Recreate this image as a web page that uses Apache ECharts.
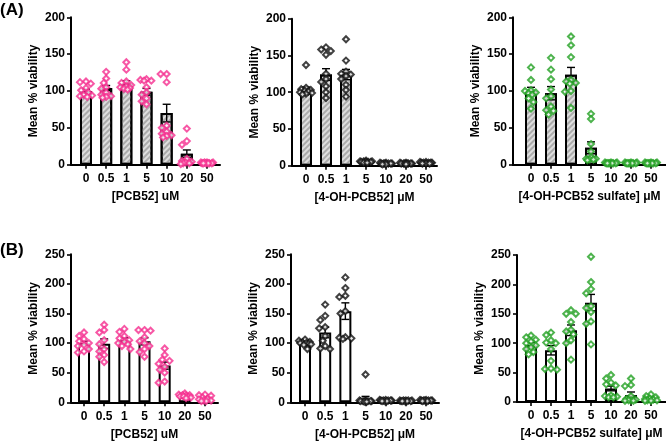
<!DOCTYPE html>
<html>
<head>
<meta charset="utf-8">
<script src="https://cdn.jsdelivr.net/npm/echarts@6/dist/echarts.min.js"></script>
<style>
html,body{margin:0;padding:0;background:#fff;}
#c{width:666px;height:443px;}
</style>
</head>
<body>
<div id="c"></div>
<script>
// ---------------- DATA ----------------
const categories = ['0', '0.5', '1', '5', '10', '20', '50'];
const yTicksA = [0, 50, 100, 150, 200];
const yTicksB = [0, 50, 100, 150, 200, 250];

// Row A: PCB52
const pcb52A_mean = [100, 104, 110, 99, 70, 15, 2];
const pcb52A_sem  = [2.5, 3.5, 4, 4.5, 12, 5, 0.5];
const pcb52A_pts  = [
  [113,112,110,104,101,98,95,94,93,92],
  [126,117,111,105,103,98,95,92,91,93],
  [139,129,113,111,108,106,105,103,102,104],
  [116,115,114,114,105,98,95,90,86,82],
  [123,123,112,53,50,45,42,39,37,40],
  [49,32,27,8,5,4,3,2,1,2],
  [3,3,2,2,2,3,2,2,3,2]
];
// Row A: 4-OH-PCB52
const ohA_mean = [103, 124, 124, 5, 3, 3, 4];
const ohA_sem  = [4, 8, 7, 0.5, 0.5, 0.5, 0.5];
const ohA_pts  = [
  [137,106,104,103,102,101,100,99,98,97],
  [161,158,156,151,125,118,114,108,100,92],
  [172,143,128,125,124,122,118,110,103,94],
  [7,6,6,5,5,5,4,4,6,5],
  [4,3,3,3,2,3,4,3,2,3],
  [4,3,3,3,2,3,4,3,3,3],
  [5,4,4,3,3,4,5,4,3,4]
];
// Row A: 4-OH-PCB52 sulfate
const sulA_mean = [100, 97, 122, 23, 2, 2, 2];
const sulA_sem  = [5, 9, 10, 8, 0.3, 0.3, 0.3];
const sulA_pts  = [
  [132,115,101,100,98,97,95,90,85,76],
  [145,129,116,102,93,90,79,74,73,68],
  [174,162,146,115,113,111,110,100,99,77],
  [69,62,28,18,10,8,7,7,6,8],
  [3,2,2,2,3,2,2,3,2,2],
  [3,2,2,2,3,2,2,3,2,2],
  [3,2,2,2,3,2,2,3,2,2]
];
// Row B: PCB52
const pcb52B_mean = [100, 99, 105, 103, 62, 10, 7];
const pcb52B_sem  = [3, 8, 4, 6, 6, 1, 1.5];
const pcb52B_pts  = [
  [118,112,107,103,100,97,95,90,86,84],
  [131,122,118,105,98,90,86,80,77,68],
  [124,119,112,108,105,102,100,98,95,90],
  [122,122,121,110,103,100,95,90,85,77],
  [91,80,72,70,65,60,55,50,35,33],
  [15,13,12,11,10,9,8,7,10,12],
  [13,12,11,8,6,5,3,2,2,3]
];
// Row B: 4-OH-PCB52
const ohB_mean = [100, 118, 154, 5, 3, 2, 3];
const ohB_sem  = [2, 9, 14, 5, 0.5, 0.5, 0.5];
const ohB_pts  = [
  [106,104,102,101,100,100,99,98,97,90],
  [165,146,139,127,125,112,104,95,91,90],
  [211,193,180,178,154,150,110,108,107,109],
  [47,3,2,2,1,2,3,2,1,2],
  [4,3,3,2,2,3,4,3,2,3],
  [3,3,2,2,2,3,3,2,2,3],
  [4,3,3,3,2,3,4,3,2,3]
];
// Row B: 4-OH-PCB52 sulfate
const sulB_mean = [97, 88, 122, 169, 23, 12, 5];
const sulB_sem  = [4, 8, 9, 14, 4, 5, 1.5];
const sulB_pts  = [
  [113,110,106,103,100,96,93,90,85,81],
  [118,114,105,101,100,90,70,57,55,56],
  [156,150,150,136,123,120,115,105,100,72],
  [247,204,192,185,163,160,153,137,133,98],
  [46,40,33,30,28,11,9,8,8,10],
  [40,29,27,10,5,3,2,3,2,4],
  [13,10,8,6,5,4,3,2,2,3]
];

const xNames = ['[PCB52] uM', '[4-OH-PCB52] \u03bcM', '[4-OH-PCB52 sulfate] \u03bcM'];
const yName = 'Mean % viability';
const panelLabels = ['(A)', '(B)'];

// ---------------- LAYOUT / STYLE ----------------
const FONT = '"Liberation Sans", Arial, Helvetica, sans-serif';
const PINK = '#f52d8f', BLACK = '#111111', GREEN = '#22a022';

const panels = [
  {g:{left:71, top:17.3, width:149, height:147.4}, xmin:-0.744, xmax:6.645, ymax:200, mean:pcb52A_mean, sem:pcb52A_sem, pts:pcb52A_pts, color:PINK, hatch:true, xname:xNames[0]},
  {g:{left:292, top:18.7, width:145, height:147}, xmin:-0.7, xmax:6.55, ymax:200, mean:ohA_mean, sem:ohA_sem, pts:ohA_pts, color:BLACK, hatch:true, xname:xNames[1]},
  {g:{left:513, top:17.3, width:153, height:147.4}, xmin:-0.9, xmax:6.75, ymax:200, mean:sulA_mean, sem:sulA_sem, pts:sulA_pts, color:GREEN, hatch:true, xname:xNames[2]},
  {g:{left:71, top:254.3, width:147, height:148}, xmin:-0.645, xmax:6.643, ymax:250, mean:pcb52B_mean, sem:pcb52B_sem, pts:pcb52B_pts, color:PINK, hatch:false, xname:xNames[0]},
  {g:{left:291, top:254.3, width:148, height:148}, xmin:-0.694, xmax:6.64, ymax:250, mean:ohB_mean, sem:ohB_sem, pts:ohB_pts, color:BLACK, hatch:false, xname:xNames[1]},
  {g:{left:517, top:255, width:149, height:147}, xmin:-0.7, xmax:6.75, ymax:250, mean:sulB_mean, sem:sulB_sem, pts:sulB_pts, color:GREEN, hatch:false, xname:xNames[2]}
];

// deterministic beeswarm-like spread of points within a column
function spread(p) {
  const pxX = p.g.width / (p.xmax - p.xmin);
  const pxY = p.g.height / p.ymax;
  const cands = [0, -0.12, 0.12, -0.24, 0.24, -0.06, 0.06, -0.18, 0.18, -0.3, 0.3];
  const out = [];
  p.pts.forEach((grp, ci) => {
    const sorted = grp.slice().sort((a, b) => b - a);
    const placed = [];
    sorted.forEach(v => {
      let best = null, bestD = -1;
      for (const o of cands) {
        let md = Infinity;
        for (const q of placed) {
          const dx = (o - q[0]) * pxX, dy = (v - q[1]) * pxY;
          md = Math.min(md, Math.sqrt(dx*dx + dy*dy));
        }
        if (md >= 5) { best = o; bestD = md; break; }
        if (md > bestD) { bestD = md; best = o; }
      }
      placed.push([best, v]);
      out.push([ci + best, v]);
    });
  });
  return out;
}

const grid = [], xAxis = [], yAxis = [], series = [];
const tickIdx = categories.map((c, i) => i);

panels.forEach((p, k) => {
  grid.push(Object.assign({containLabel:false}, p.g));
  xAxis.push({
    type:'value', gridIndex:k, min:p.xmin, max:p.xmax,
    name:p.xname, nameLocation:'middle', nameGap:26,
    nameTextStyle:{fontFamily:FONT, fontWeight:'bold', fontSize:12, color:'#000'},
    axisLine:{show:true, onZero:false, lineStyle:{color:'#000', width:2}},
    axisTick:{show:true, customValues:tickIdx, length:4, lineStyle:{color:'#000', width:1.6}},
    axisLabel:{customValues:tickIdx, margin:8, fontFamily:FONT, fontWeight:'bold', fontSize:12, color:'#000',
      formatter:v => categories[Math.round(v)]},
    splitLine:{show:false}
  });
  yAxis.push({
    type:'value', gridIndex:k, min:0, max:p.ymax, interval:50,
    name:yName, nameLocation:'middle', nameGap:31, nameRotate:90,
    nameTextStyle:{fontFamily:FONT, fontWeight:'bold', fontSize:12, color:'#000'},
    axisLine:{show:true, onZero:false, lineStyle:{color:'#000', width:2}},
    axisTick:{show:true, length:4, lineStyle:{color:'#000', width:1.6}},
    axisLabel:{margin:6, fontFamily:FONT, fontWeight:'bold', fontSize:12, color:'#000'},
    splitLine:{show:false}
  });
  series.push({
    type:'bar', xAxisIndex:k, yAxisIndex:k, barWidth:12, z:2,
    data:p.mean.map((m, i) => [i, m]),
    itemStyle: p.hatch ? {
      color:'#dedede', borderColor:'#000', borderWidth:2,
      decal:{symbol:'rect', symbolSize:1, color:'#ababab', dashArrayX:[1, 0], dashArrayY:[1.3, 1.8], rotation:-Math.PI/4}
    } : {color:'#fff', borderColor:'#000', borderWidth:2},
    emphasis:{disabled:true}, animation:false
  });
  series.push({
    type:'custom', xAxisIndex:k, yAxisIndex:k, z:3,
    data:p.mean.map((m, i) => [i, m, p.sem[i]]),
    renderItem:(params, api) => {
      const x = api.value(0), m = api.value(1), s = api.value(2);
      const t = api.coord([x, m + s]), b = api.coord([x, Math.max(0, m - s)]);
      const h = 4, st = {stroke:'#000', lineWidth:1.4};
      return {type:'group', children:[
        {type:'line', shape:{x1:t[0], y1:t[1], x2:b[0], y2:b[1]}, style:st},
        {type:'line', shape:{x1:t[0]-h, y1:t[1], x2:t[0]+h, y2:t[1]}, style:st},
        {type:'line', shape:{x1:b[0]-h, y1:b[1], x2:b[0]+h, y2:b[1]}, style:st}
      ]};
    },
    animation:false
  });
  series.push({
    type:'scatter', xAxisIndex:k, yAxisIndex:k, z:4,
    symbol:'diamond', symbolSize:6,
    itemStyle:{color:'#fff', borderColor:p.color, borderWidth:2},
    data:spread(p), emphasis:{disabled:true}, animation:false
  });
});

const chart = echarts.init(document.getElementById('c'), null, {renderer:'canvas'});
chart.setOption({
  backgroundColor:'#fff',
  animation:false,
  title:[
    {text:panelLabels[0], left:0, top:2, padding:0, textStyle:{fontFamily:FONT, fontWeight:'bold', fontSize:17, color:'#000'}},
    {text:panelLabels[1], left:0, top:242, padding:0, textStyle:{fontFamily:FONT, fontWeight:'bold', fontSize:17, color:'#000'}}
  ],
  grid, xAxis, yAxis, series
});
</script>
</body>
</html>
